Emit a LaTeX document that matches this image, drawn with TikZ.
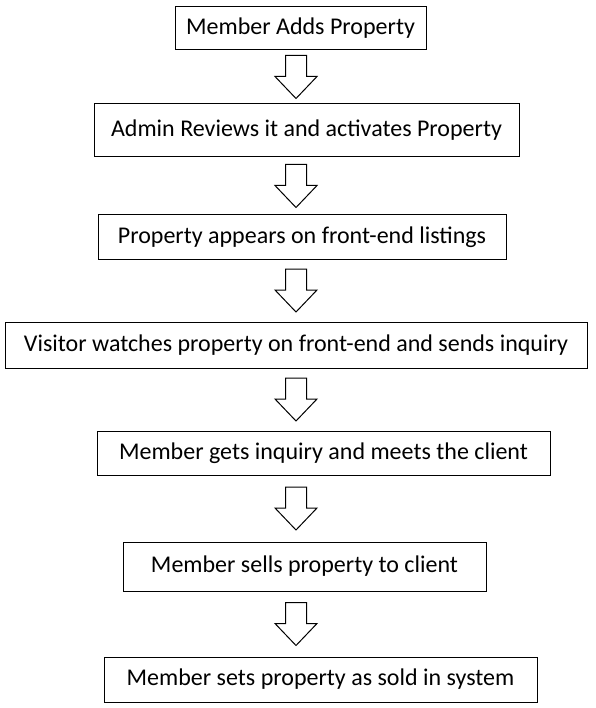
\documentclass[tikz,border=0pt]{standalone}
\usepackage{fontspec}
\setmainfont{Carlito}
\usetikzlibrary{calc}

\begin{document}
\begin{tikzpicture}[x=1pt,y=-1pt]
\tikzset{every node/.style={draw,line width=1pt,inner sep=0pt,
font=\fontsize{24}{28}\selectfont},
pics/fat arrow/.style={code={
\draw[line width=1pt] (-10.5,-21.5) -- (10.5,-21.5) -- (10.5,-0.5) -- (21,-0.5)
 -- (0,21.5) -- (-21,-0.5) -- (-10.5,-0.5) -- cycle;}}}
\useasboundingbox (0,0) rectangle (595,708);

\node[minimum width=251,minimum height=43] (adds) at (300.5,28.5) {Member Adds Property};
\node[minimum width=425,minimum height=53] (reviews) at (306.5,130.5) {Admin Reviews it and activates Property};
\node[minimum width=408,minimum height=44] (listed) at (302,237) {Property appears on front-end listings};
\node[minimum width=582,minimum height=46] (inquiry) at (296,345) {Visitor watches property on front-end and sends inquiry};
\node[minimum width=453,minimum height=44] (meets) at (323.5,453) {Member gets inquiry and meets the client};
\node[minimum width=363,minimum height=49] (sells) at (304.5,566.5) {Member sells property to client};
\node[minimum width=433,minimum height=45] (sold) at (320.5,679.5) {Member sets property as sold in system};

% hollow block arrows, all on one vertical line
\foreach \a/\b in {adds/reviews,reviews/listed,listed/inquiry,inquiry/meets,meets/sells,sells/sold}
\path let \p1=($(\a.south)!.5!(\b.north)$) in (296pt,\y1) pic {fat arrow};
\end{tikzpicture}
\end{document}
